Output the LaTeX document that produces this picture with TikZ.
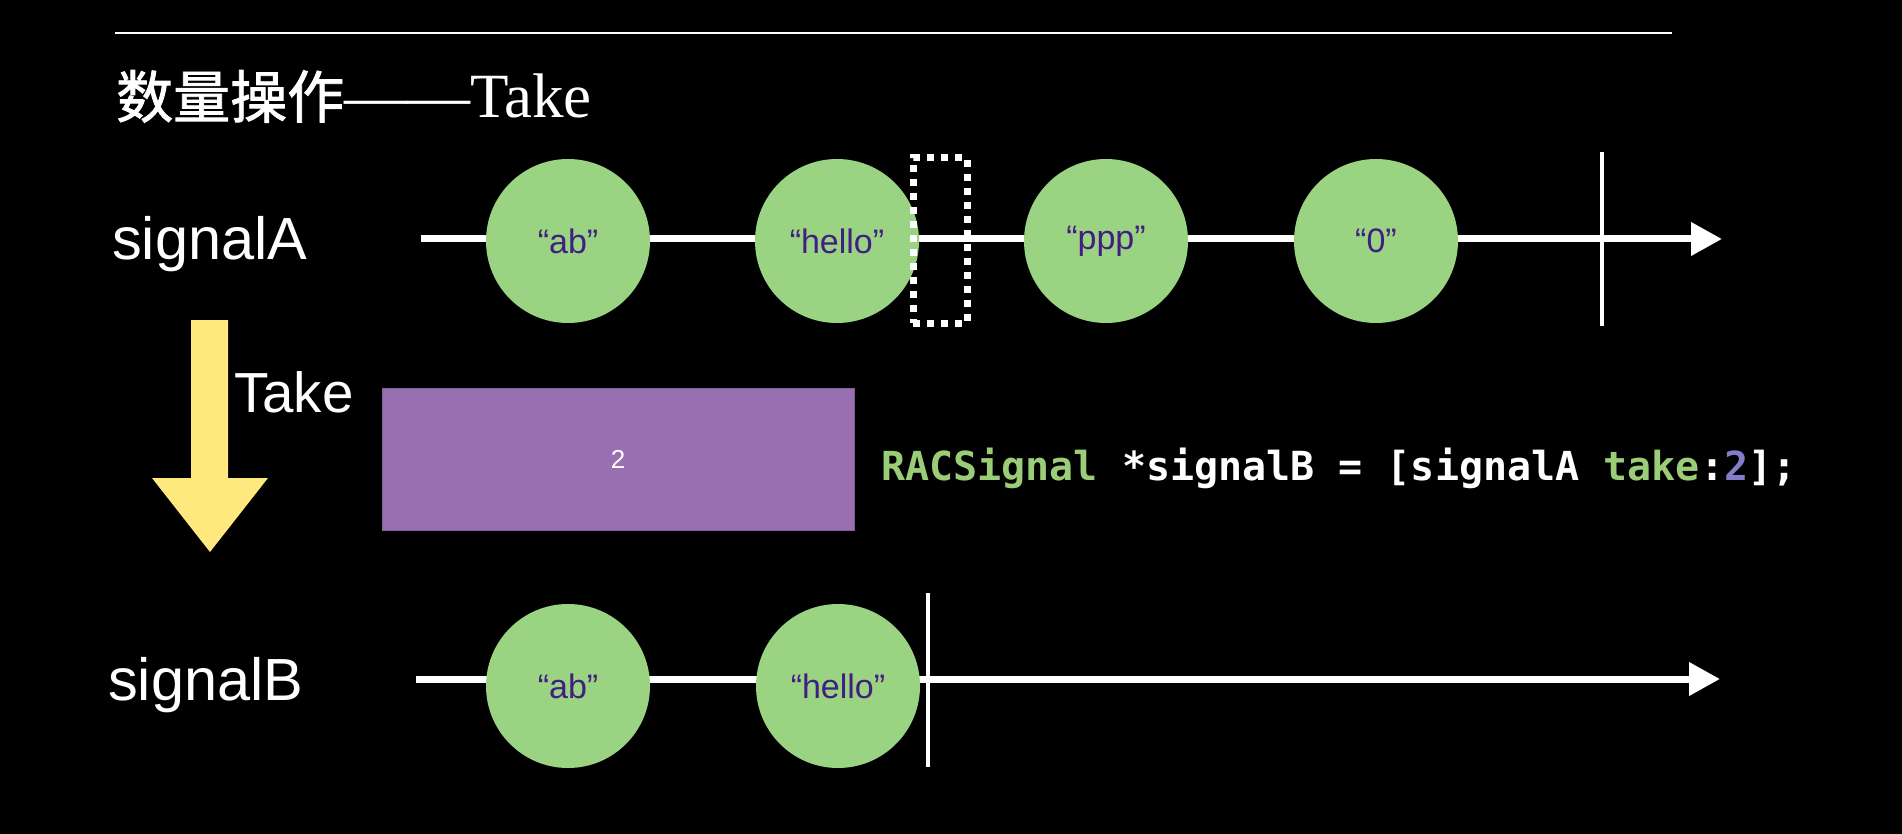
\documentclass[tikz,border=0pt]{standalone}
\usepackage{fontspec}
\setmainfont{Liberation Sans}
\newfontfamily\cjk[AutoFakeBold=1.5]{Noto Sans CJK SC}
\newfontfamily\serifA{Liberation Serif}
\newfontfamily\codefont{DejaVu Sans Mono Bold}
\usetikzlibrary{arrows.meta}
\definecolor{cgreen}{RGB}{154,212,131}
\definecolor{ctext}{RGB}{66,30,130}
\definecolor{cyellow}{RGB}{255,233,127}
\definecolor{cpurple}{RGB}{152,112,178}
\definecolor{kgreen}{RGB}{155,204,120}
\definecolor{kpurple}{RGB}{130,125,200}
\tikzset{
  ev/.style={circle, fill=cgreen, minimum size=164pt, inner sep=0pt, text=ctext, font=\fontsize{34}{40}\selectfont},
  timeline/.style={white, line width=7pt, -{Triangle[length=31pt,width=32pt]}},
  endbar/.style={white, line width=4.5pt},
  lbl/.style={text=white, inner sep=0pt, font=\fontsize{59.5}{66}\selectfont},
}
\begin{document}
\begin{tikzpicture}[x=1pt,y=-1pt]
\fill[black] (0,0) rectangle (1902,834);
\useasboundingbox (0,0) rectangle (1902,834);
% top rule
\coordinate (r1) at (115,33);
\coordinate (r2) at (1672,33);
\draw[white, line width=2.5pt] (r1) -- (r2);
% title
\node[anchor=base west, inner sep=0pt, text=white] (title) at (116,118)
  {{\cjk\bfseries\fontsize{57}{64}\selectfont 数量操作}{\serifA\fontsize{63}{66}\selectfont ——Take}};
% signal A
\node[lbl, anchor=west] (la) at (112,244) {signalA};
\coordinate (aS) at (421,239);
\coordinate (aE) at (1722,239);
\draw[timeline] (aS) -- (aE);
\coordinate (aT1) at (1602,152);
\coordinate (aT2) at (1602,326);
\draw[endbar] (aT1) -- (aT2);
\node[ev] (a1) at (568,241) {“ab”};
\node[ev] (a2) at (837,241) {“hello”};
\node[ev] (a3) at (1106,241) {“ppp”};
\node[ev] (a4) at (1376,241) {“0”};
\node[draw=white, line width=7pt, dash pattern=on 7pt off 7pt, minimum width=54pt, minimum height=165pt, inner sep=0pt] (cut) at (940,240.5) {};
% take arrow
\fill[cyellow] (191,320) -- (228,320) -- (228,478) -- (268,478) -- (210,552) -- (152,478) -- (191,478) -- cycle;
\node[lbl, anchor=base west, font=\fontsize{56.5}{60}\selectfont] (take) at (234,412) {Take};
% operator box
\node[fill=cpurple, draw=cpurple!85!black, line width=0.8pt, minimum width=472pt, minimum height=142pt, inner sep=0pt, text=white, font=\fontsize{26}{30}\selectfont] (op) at (618,459) {2};
% code
\node[anchor=base west, inner sep=0pt, text=white, font=\codefont\fontsize{40}{44}\selectfont] (code) at (881,480)
  {\textcolor{kgreen}{RACSignal} *signalB = [signalA \textcolor{kgreen}{take}:\textcolor{kpurple}{2}];};
% signal B
\node[lbl, anchor=west] (lb) at (108,685) {signalB};
\coordinate (bS) at (416,679);
\coordinate (bE) at (1720,679);
\draw[timeline] (bS) -- (bE);
\coordinate (bT1) at (928,593);
\coordinate (bT2) at (928,767);
\draw[endbar] (bT1) -- (bT2);
\node[ev] (b1) at (568,686) {“ab”};
\node[ev] (b2) at (838,686) {“hello”};
\end{tikzpicture}
\end{document}
